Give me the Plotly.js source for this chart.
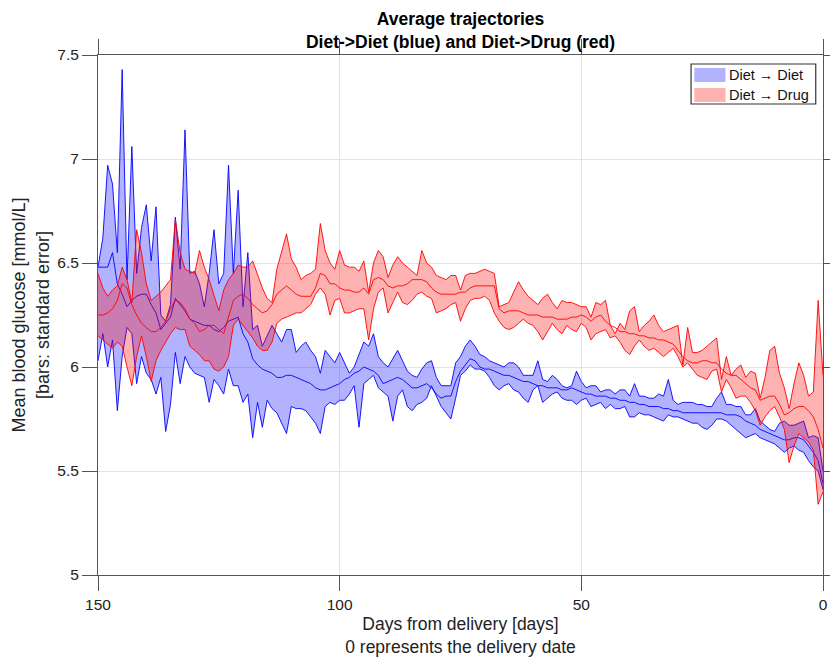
<!DOCTYPE html>
<html><head><meta charset="utf-8">
<script src="https://cdn.plot.ly/plotly-3.0.1.min.js"></script>
<style>html,body{margin:0;padding:0;background:#fff}</style>
</head><body>
<div id="chart" style="width:830px;height:660px"></div>
<script>
// Days from delivery (150 -> 0)
const days = [150,149,148,147,146,145,144,143,142,141,140,139,138,137,136,135,134,133,132,131,130,129,128,127,126,125,124,123,122,121,120,119,118,117,116,115,114,113,112,111,110,109,108,107,106,105,104,103,102,101,100,99,98,97,96,95,94,93,92,91,90,89,88,87,86,85,84,83,82,81,80,79,78,77,76,75,74,73,72,71,70,69,68,67,66,65,64,63,62,61,60,59,58,57,56,55,54,53,52,51,50,49,48,47,46,45,44,43,42,41,40,39,38,37,36,35,34,33,32,31,30,29,28,27,26,25,24,23,22,21,20,19,18,17,16,15,14,13,12,11,10,9,8,7,6,5,4,3,2,1,0];

// Diet -> Diet (blue): upper bound, mean, lower bound
const dietHi = [6.48,6.62,6.97,6.88,6.55,7.43,6.42,7.06,6.45,6.67, 6.78,6.51,6.77,6.25,6.22,6.30,6.72,6.47,7.14,6.45, 6.46,6.40,6.29,6.45,6.66,6.40,6.45,6.97,6.45,6.85, 6.29,6.55,6.18,6.20,6.10,6.15,6.20,6.16,6.12,6.18, 6.18,6.07,6.10,6.12,6.08,6.05,5.97,6.08,6.05,6.02, 6.07,6.02,5.97,6.00,6.06,6.12,6.10,6.16,6.05,6.02, 6.00,6.04,6.08,6.03,5.98,5.96,5.95,5.99,6.02,6.03, 5.95,5.91,5.91,5.91,6.02,6.05,6.10,6.13,6.10,6.06, 6.05,6.03,6.02,6.01,6.00,6.02,6.02,6.00,5.96,5.96, 5.96,6.03,5.94,5.93,5.96,5.94,5.91,5.90,5.91,5.98, 5.93,5.90,5.91,5.91,5.88,5.89,5.89,5.87,5.89,5.89, 5.86,5.92,5.86,5.86,5.85,5.85,5.87,5.86,5.94,5.84, 5.82,5.83,5.83,5.83,5.82,5.82,5.81,5.81,5.85,5.88, 5.82,5.82,5.81,5.81,5.77,5.77,5.80,5.74,5.72,5.70, 5.69,5.73,5.74,5.72,5.72,5.73,5.74,5.66,5.67,5.66, 5.50];
const dietMean = [6.48,6.48,6.48,6.55,6.40,6.35,6.29,6.32,6.34,6.35, 6.35,6.30,6.26,6.18,6.21,6.24,6.33,6.30,6.27,6.23, 6.22,6.21,6.20,6.20,6.18,6.17,6.19,6.22,6.23,6.24, 6.16,6.12,6.04,6.01,5.99,5.98,5.97,5.95,5.95,5.96, 5.96,5.95,5.94,5.93,5.92,5.90,5.89,5.89,5.90,5.91, 5.92,5.94,5.95,5.97,5.98,6.00,5.99,5.98,5.96,5.92, 5.93,5.94,5.95,5.94,5.92,5.90,5.90,5.91,5.92,5.90, 5.87,5.85,5.86,5.86,5.93,5.98,6.01,6.04,6.03,6.00, 5.99,5.99,5.98,5.97,5.96,5.96,5.95,5.94,5.93,5.93, 5.92,5.91,5.91,5.90,5.90,5.90,5.89,5.89,5.90,5.89, 5.88,5.87,5.87,5.86,5.86,5.86,5.85,5.85,5.84,5.84, 5.83,5.83,5.82,5.82,5.81,5.81,5.81,5.80,5.80,5.79, 5.79,5.78,5.78,5.78,5.78,5.78,5.78,5.78,5.78,5.78, 5.77,5.77,5.77,5.76,5.74,5.73,5.72,5.70,5.69,5.68, 5.67,5.66,5.65,5.65,5.66,5.66,5.65,5.62,5.59,5.55, 5.44];
const dietLo = [6.03,6.16,6.00,6.13,5.79,6.05,6.19,6.16,5.92,6.05, 5.97,5.94,5.87,5.95,5.69,5.82,6.07,5.92,6.05,6.00, 5.97,5.96,5.95,5.83,5.94,5.91,5.87,5.99,5.91,5.91, 5.83,5.87,5.66,5.83,5.71,5.84,5.80,5.78,5.73,5.68, 5.81,5.80,5.80,5.79,5.76,5.73,5.68,5.81,5.83,5.82, 5.84,5.84,5.87,5.91,5.71,5.92,5.94,5.96,5.90,5.88, 5.86,5.74,5.86,5.89,5.81,5.79,5.82,5.83,5.85,5.91, 5.86,5.81,5.78,5.75,5.85,5.96,5.98,6.01,5.99,5.99, 5.98,5.95,5.91,5.89,5.91,5.92,5.89,5.88,5.85,5.83, 5.89,5.91,5.83,5.85,5.87,5.88,5.85,5.84,5.84,5.82, 5.84,5.85,5.81,5.82,5.83,5.80,5.82,5.80,5.80,5.81, 5.76,5.76,5.78,5.77,5.77,5.76,5.75,5.74,5.77,5.76, 5.76,5.75,5.74,5.73,5.73,5.71,5.70,5.72,5.75,5.75, 5.74,5.72,5.70,5.68,5.66,5.67,5.68,5.66,5.65,5.64, 5.63,5.61,5.59,5.61,5.62,5.60,5.59,5.55,5.52,5.50, 5.41];

// Diet -> Drug (red): upper bound, mean, lower bound
const drugHi = [6.45,6.38,6.34,6.37,6.39,6.48,6.42,6.31,6.66,6.55, 6.40,6.32,6.34,6.36,6.39,6.42,6.71,6.55,6.47,6.46, 6.45,6.56,6.48,6.42,6.35,6.27,6.37,6.42,6.45,6.49, 6.48,6.48,6.51,6.44,6.38,6.33,6.31,6.47,6.55,6.64, 6.52,6.48,6.42,6.44,6.45,6.47,6.69,6.56,6.50,6.47, 6.56,6.49,6.48,6.48,6.46,6.51,6.36,6.50,6.56,6.53, 6.43,6.49,6.53,6.50,6.48,6.46,6.44,6.56,6.50,6.48, 6.44,6.43,6.42,6.44,6.44,6.37,6.44,6.45,6.45,6.46, 6.47,6.46,6.45,6.29,6.30,6.31,6.36,6.41,6.37,6.34, 6.32,6.30,6.33,6.35,6.31,6.28,6.32,6.31,6.31,6.30, 6.29,6.29,6.24,6.31,6.30,6.32,6.20,6.16,6.21,6.18, 6.27,6.29,6.17,6.20,6.22,6.25,6.20,6.17,6.18,6.19, 6.20,6.01,6.19,6.07,6.07,6.08,6.10,6.12,6.14,5.94, 6.05,5.96,5.99,6.01,5.95,5.98,5.97,5.85,5.95,6.08, 6.10,5.97,5.90,5.80,5.92,6.02,5.96,5.86,5.88,6.32, 5.96];
const drugMean = [6.25,6.25,6.26,6.28,6.32,6.40,6.38,6.30,6.25,6.21, 6.19,6.17,6.17,6.19,6.22,6.28,6.32,6.31,6.28,6.23, 6.21,6.17,6.18,6.20,6.20,6.18,6.16,6.24,6.32,6.34, 6.35,6.33,6.30,6.28,6.26,6.27,6.30,6.35,6.37,6.39, 6.37,6.35,6.34,6.34,6.34,6.38,6.45,6.44,6.40,6.40, 6.38,6.37,6.37,6.36,6.36,6.38,6.35,6.42,6.43,6.42, 6.39,6.38,6.39,6.39,6.40,6.42,6.42,6.42,6.41,6.38, 6.36,6.35,6.35,6.35,6.35,6.36,6.36,6.38,6.39,6.39, 6.39,6.39,6.39,6.28,6.26,6.27,6.27,6.27,6.26,6.25, 6.25,6.25,6.24,6.24,6.24,6.23,6.23,6.23,6.24,6.24, 6.25,6.24,6.22,6.24,6.25,6.22,6.20,6.19,6.17,6.17, 6.16,6.16,6.15,6.15,6.14,6.14,6.13,6.13,6.12,6.11, 6.08,6.05,6.03,6.02,6.02,6.03,6.03,6.02,6.02,5.99, 5.97,5.96,5.96,5.94,5.92,5.90,5.89,5.84,5.85,5.86, 5.86,5.82,5.77,5.78,5.80,5.81,5.81,5.79,5.76,5.70, 5.61];
const drugLo = [6.15,6.13,6.11,6.09,6.12,6.10,6.00,5.91,6.05,6.15, 6.05,5.93,6.03,6.08,6.12,6.16,6.19,6.18,6.18,6.10, 6.08,6.06,6.03,6.03,5.99,5.98,6.00,6.05,6.20,6.23, 6.20,6.17,6.14,6.10,6.08,6.08,6.12,6.21,6.23,6.24, 6.25,6.26,6.26,6.28,6.30,6.35,6.38,6.35,6.25,6.32, 6.33,6.26,6.26,6.27,6.28,6.28,6.13,6.28,6.36,6.38, 6.26,6.31,6.36,6.31,6.30,6.32,6.35,6.36,6.34,6.33, 6.26,6.27,6.28,6.30,6.31,6.22,6.28,6.32,6.33,6.33, 6.34,6.32,6.26,6.22,6.19,6.18,6.19,6.21,6.23,6.21, 6.20,6.17,6.13,6.17,6.21,6.18,6.16,6.20,6.18,6.17, 6.21,6.19,6.13,6.16,6.17,6.18,6.14,6.15,6.12,6.08, 6.06,6.10,6.13,6.10,6.08,6.09,6.07,6.05,6.07,6.09, 6.05,6.00,6.02,5.99,5.96,5.95,5.94,5.98,5.99,5.88, 5.94,5.90,5.85,5.86,5.86,5.83,5.79,5.72,5.76,5.79, 5.81,5.76,5.70,5.54,5.62,5.68,5.66,5.64,5.60,5.34, 5.40];

const legendLabels = ['Diet \u2192 Diet', 'Diet \u2192 Drug'];
const xTicks = [150, 100, 50, 0];
const yTicks = [5, 5.5, 6, 6.5, 7, 7.5];

const BLUE = 'rgb(0,0,255)', BLUE_FILL = 'rgba(0,0,255,0.3)';
const RED = 'rgb(255,0,0)', RED_FILL = 'rgba(255,0,0,0.3)';
const LW = 0.9;
const FONT = 'Liberation Sans, Arial, Helvetica, sans-serif';

function band(lo, hi, mean, col, fill, name) {
  return [
    {x: days, y: lo, type: 'scatter', mode: 'lines', line: {color: col, width: LW}, showlegend: false, hoverinfo: 'skip', name: name + ' lower'},
    {x: days, y: hi, type: 'scatter', mode: 'lines', fill: 'tonexty', fillcolor: fill, line: {color: col, width: LW}, showlegend: false, hoverinfo: 'skip', name: name + ' upper'},
    {x: days, y: mean, type: 'scatter', mode: 'lines', line: {color: col, width: LW}, showlegend: false, name: name}
  ];
}

const data = [].concat(
  band(dietLo, dietHi, dietMean, BLUE, BLUE_FILL, legendLabels[0]),
  band(drugLo, drugHi, drugMean, RED, RED_FILL, legendLabels[1])
);

const axisCommon = {
  ticks: 'outside', ticklen: 15, tickwidth: 1, tickcolor: '#555',
  showline: true, linecolor: '#555', linewidth: 1, mirror: 'ticks',
  showgrid: true, gridcolor: '#e3e3e3', gridwidth: 1, zeroline: false,
  tickfont: {family: FONT, size: 15.5, color: '#222'}
};

const layout = {
  width: 830, height: 660,
  margin: {l: 98, r: 7, t: 55, b: 85},
  paper_bgcolor: '#fff', plot_bgcolor: '#fff',
  font: {family: FONT, color: '#222'},
  title: {
    text: 'Average trajectories<br>Diet->Diet (blue) and Diet->Drug (red)',
    font: {family: FONT, size: 17.5, color: '#000', weight: 'bold'},
    x: 0.5, xref: 'paper', xanchor: 'center',
    y: 0.962, yref: 'container', yanchor: 'top'
  },
  xaxis: Object.assign({}, axisCommon, {
    range: [150, 0], tickvals: xTicks, ticktext: xTicks.map(String),
    title: {text: 'Days from delivery [days]<br>0 represents the delivery date', font: {family: FONT, size: 17.5, color: '#222'}, standoff: 6}
  }),
  yaxis: Object.assign({}, axisCommon, {
    range: [5, 7.5], tickvals: yTicks, ticktext: yTicks.map(String),
    title: {text: 'Mean blood glucose [mmol/L]<br>[bars: standard error]', font: {family: FONT, size: 18, color: '#222'}, standoff: 3}
  }),
  shapes: [
    {type: 'rect', xref: 'paper', yref: 'paper', x0: 0.818, x1: 0.990, y0: 0.9058, y1: 0.9827, line: {color: '#333', width: 1.2}, fillcolor: '#fff', layer: 'above'},
    {type: 'rect', xref: 'paper', yref: 'paper', x0: 0.8225, x1: 0.8655, y0: 0.948, y1: 0.975, line: {width: 0}, fillcolor: BLUE_FILL, layer: 'above'},
    {type: 'rect', xref: 'paper', yref: 'paper', x0: 0.8225, x1: 0.8655, y0: 0.9096, y1: 0.9365, line: {width: 0}, fillcolor: RED_FILL, layer: 'above'}
  ],
  annotations: [
    {text: legendLabels[0], xref: 'paper', yref: 'paper', x: 0.868, y: 0.9615, xanchor: 'left', yanchor: 'middle', showarrow: false, font: {family: FONT, size: 14.5, color: '#111'}},
    {text: legendLabels[1], xref: 'paper', yref: 'paper', x: 0.868, y: 0.923, xanchor: 'left', yanchor: 'middle', showarrow: false, font: {family: FONT, size: 14.5, color: '#111'}}
  ],
  showlegend: false
};

Plotly.newPlot('chart', data, layout, {displayModeBar: false, staticPlot: true});
</script>
</body></html>
